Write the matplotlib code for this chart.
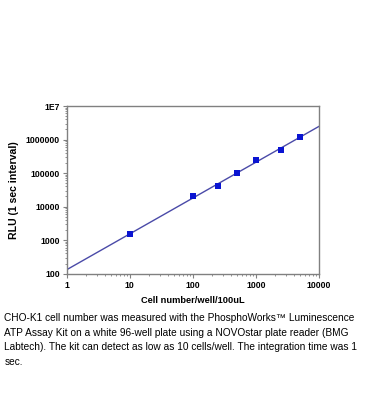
import matplotlib
matplotlib.use('Agg')

import numpy as np
import matplotlib.pyplot as plt
from matplotlib.ticker import LogLocator, FixedLocator, NullFormatter

plt.rcParams['font.family'] = ['Liberation Sans', 'DejaVu Sans']

cells = [10, 100, 250, 500, 1000, 2500, 5000]
rlu = [1500, 20000, 40000, 100000, 250000, 500000, 1200000]

x_ticks = [1, 10, 100, 1000, 10000]
x_labels = ['1', '10', '100', '1000', '10000']
y_ticks = [100, 1000, 10000, 100000, 1000000, 10000000]
y_labels = ['100', '1000', '10000', '100000', '1000000', '1E7']

caption = ("CHO-K1 cell number was measured with the PhosphoWorks\u2122 Luminescence\n"
           "ATP Assay Kit on a white 96-well plate using a NOVOstar plate reader (BMG\n"
           "Labtech). The kit can detect as low as 10 cells/well. The integration time was 1\n"
           "sec.")

# linear fit in log-log space
k, b = np.polyfit(np.log10(cells), np.log10(rlu), 1)
xf = np.logspace(0, 4, 100)
yf = 10 ** (k * np.log10(xf) + b)

fig = plt.figure(figsize=(3.7, 4.19), dpi=100)
ax = fig.add_axes([0.180, 0.347, 0.682, 0.400])

ax.plot(xf, yf, color='#4a4aa8', linewidth=1.0)
ax.plot(cells, rlu, 's', color='#0a14d2', markersize=4, markeredgewidth=0)

ax.set_xscale('log')
ax.set_yscale('log')
ax.set_xlim(1, 10000)
ax.set_ylim(100, 10000000)

ax.xaxis.set_major_locator(FixedLocator(x_ticks))
ax.set_xticklabels(x_labels)
ax.yaxis.set_major_locator(FixedLocator(y_ticks))
ax.set_yticklabels(y_labels)
ax.xaxis.set_minor_locator(LogLocator(base=10, subs=np.arange(2, 10)))
ax.yaxis.set_minor_locator(LogLocator(base=10, subs=np.arange(2, 10)))
ax.xaxis.set_minor_formatter(NullFormatter())
ax.yaxis.set_minor_formatter(NullFormatter())

for s in ax.spines.values():
    s.set_color('#808080')
    s.set_linewidth(1.0)
ax.tick_params(which='major', length=3, width=0.8, color='#808080', pad=2, labelsize=6.2)
ax.tick_params(which='minor', length=1.5, width=0.6, color='#808080')
for lab in ax.get_xticklabels() + ax.get_yticklabels():
    lab.set_fontweight('bold')

ax.set_xlabel('Cell number/well/100uL', fontsize=6.7, fontweight='bold', labelpad=5)
ax.set_ylabel('RLU (1 sec interval)', fontsize=7.6, fontweight='bold', labelpad=5)

fig.text(0.012, 0.252, caption, fontsize=7.25, va='top', ha='left', linespacing=1.55)

plt.savefig('out.png', dpi=100)
